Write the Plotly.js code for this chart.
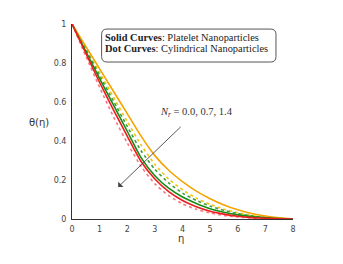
<!DOCTYPE html>
<html>
<head>
<meta charset="utf-8">
<script src="https://cdn.plot.ly/plotly-3.0.1.min.js"></script>
<style>html,body{margin:0;padding:0;background:#fff;}#chart{width:343px;height:264px;}</style>
</head>
<body>
<div id="chart"></div>
<script>
const eta = [0, 0.5, 1, 1.5, 2, 2.5, 3, 3.5, 4, 4.5, 5, 5.5, 6, 6.5, 7, 7.5, 8];
// Platelet (solid) Nr = 0.0, 0.7, 1.4
const platNr00 = [1, 0.885, 0.77, 0.655, 0.54, 0.425, 0.325, 0.25, 0.192, 0.143, 0.104, 0.072, 0.047, 0.028, 0.015, 0.006, 0];
const platNr07 = [1, 0.86, 0.72, 0.585, 0.45, 0.315, 0.222, 0.158, 0.113, 0.08, 0.053, 0.035, 0.021, 0.012, 0.006, 0.002, 0];
const platNr14 = [1, 0.85, 0.70, 0.56, 0.425, 0.295, 0.205, 0.14, 0.095, 0.063, 0.04, 0.025, 0.014, 0.007, 0.004, 0.001, 0];
// Cylindrical (dot) Nr = 0.0, 0.7, 1.4
const cylNr00 = [1, 0.875, 0.75, 0.625, 0.5, 0.38, 0.28, 0.205, 0.15, 0.107, 0.075, 0.05, 0.032, 0.019, 0.01, 0.004, 0];
const cylNr07 = [1, 0.87, 0.735, 0.605, 0.475, 0.35, 0.255, 0.185, 0.133, 0.095, 0.066, 0.044, 0.028, 0.016, 0.008, 0.003, 0];
const cylNr14 = [1, 0.835, 0.675, 0.525, 0.39, 0.27, 0.18, 0.12, 0.078, 0.05, 0.031, 0.018, 0.01, 0.005, 0.002, 0.001, 0];

const xTicks = [0, 1, 2, 3, 4, 5, 6, 7, 8];
const yTicks = [0, 0.2, 0.4, 0.6, 0.8, 1];
const yTickText = ['0', '0.2', '0.4', '0.6', '0.8', '1'];

function tr(y, color, dash) {
  return {x: eta, y: y, mode: 'lines', type: 'scatter', hoverinfo: 'skip',
    line: {color: color, width: 1.6, dash: dash, shape: 'spline', smoothing: 0.6}};
}
const data = [
  tr(cylNr00, '#f2c40c', 'dot'),
  tr(cylNr07, '#3c9e3c', 'dot'),
  tr(cylNr14, '#f37a84', 'dot'),
  tr(platNr00, '#f5a300', 'solid'),
  tr(platNr07, '#168c16', 'solid'),
  tr(platNr14, '#ee1c1c', 'solid')
];

const x0 = 0.134, x1 = 0.923, yb = 0.805, yt = 0.974, rx = 0.024, ry = 0.028;
const boxPath = `M ${x0+rx} ${yb} L ${x1-rx} ${yb} Q ${x1} ${yb} ${x1} ${yb+ry} L ${x1} ${yt-ry} Q ${x1} ${yt} ${x1-rx} ${yt} L ${x0+rx} ${yt} Q ${x0} ${yt} ${x0} ${yt-ry} L ${x0} ${yb+ry} Q ${x0} ${yb} ${x0+rx} ${yb} Z`;

const serif = 'Liberation Serif, Times New Roman, serif';
const layout = {
  width: 343, height: 264,
  margin: {l: 72, r: 50, t: 24, b: 45},
  paper_bgcolor: '#fff', plot_bgcolor: '#fff',
  showlegend: false,
  xaxis: {range: [0, 8], tickvals: xTicks, showgrid: false, zeroline: false,
    showline: true, linecolor: '#333', linewidth: 1,
    ticks: 'outside', ticklen: 2, tickcolor: 'rgba(0,0,0,0)',
    tickfont: {family: 'DejaVu Sans', size: 8, color: '#444'}},
  yaxis: {range: [0, 1], tickvals: yTicks, ticktext: yTickText, showgrid: false, zeroline: false,
    showline: true, linecolor: '#333', linewidth: 1,
    ticks: 'outside', ticklen: 3, tickcolor: 'rgba(0,0,0,0)',
    tickfont: {family: 'DejaVu Sans', size: 8, color: '#444'}},
  shapes: [{type: 'path', xref: 'paper', yref: 'paper', path: boxPath,
    line: {color: '#555', width: 1}, fillcolor: 'rgba(0,0,0,0)'}],
  annotations: [
    {xref: 'paper', yref: 'paper', x: (103-72)/221, y: (219.3-37.8)/195, xanchor: 'left', yanchor: 'middle', showarrow: false,
      text: '<b>Solid Curves</b>: Platelet Nanoparticles', font: {family: serif, size: 10.4, color: '#222'}},
    {xref: 'paper', yref: 'paper', x: (103-72)/221, y: (219.3-48.6)/195, xanchor: 'left', yanchor: 'middle', showarrow: false,
      text: '<b>Dot Curves</b>: Cylindrical Nanoparticles', font: {family: serif, size: 10.4, color: '#222'}},
    {xref: 'x', yref: 'y', axref: 'x', ayref: 'y', x: 1.67, y: 0.164, ax: 3.99, ay: 0.48,
      showarrow: true, arrowhead: 1, arrowsize: 1.4, arrowwidth: 0.9, arrowcolor: '#444', text: ''},
    {xref: 'paper', yref: 'paper', x: (158-72)/221, y: (219.3-112.5)/195, xanchor: 'left', yanchor: 'middle', showarrow: false,
      text: '<i>N<sub>r</sub></i> = 0.0, 0.7, 1.4', font: {family: serif, size: 10.5, color: '#333'}},
    {xref: 'paper', yref: 'paper', x: (39-72)/221, y: (219.3-123)/195, xanchor: 'center', yanchor: 'middle', showarrow: false,
      text: 'θ(η)', font: {family: 'DejaVu Sans', size: 10, color: '#333'}},
    {xref: 'paper', yref: 'paper', x: (181-72)/221, y: (219.3-239)/195, xanchor: 'center', yanchor: 'middle', showarrow: false,
      text: 'η', font: {family: 'DejaVu Sans', size: 10, color: '#333'}}
  ]
};
Plotly.newPlot('chart', data, layout, {staticPlot: true, displayModeBar: false});
</script>
</body>
</html>
